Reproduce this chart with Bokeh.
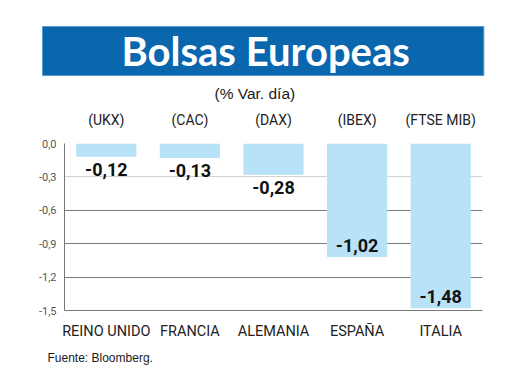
from bokeh.plotting import figure
from bokeh.models import (FactorRange, CategoricalAxis, FixedTicker, Grid, Title,
                          ColumnDataSource, CategoricalScale, LinearAxis)
from bokeh.embed import file_html
from bokeh.resources import INLINE
from bokeh.core.properties import value

countries = ["REINO UNIDO", "FRANCIA", "ALEMANIA", "ESPAÑA", "ITALIA"]
codes = ["(UKX)", "(CAC)", "(DAX)", "(IBEX)", "(FTSE MIB)"]
changes = [-0.12, -0.13, -0.28, -1.02, -1.48]
y_ticks = [0.0, -0.3, -0.6, -0.9, -1.2, -1.5]
y_tick_labels = ["0,0", "-0,3", "-0,6", "-0,9", "-1,2", "-1,5"]
title = "Bolsas Europeas"
subtitle = "(% Var. día)"
source_note = "Fuente: Bloomberg."

W, H = 520, 390
FL, FT, FR, FB = 64, 143, 482, 310  # frame edges on the page

p = figure(width=W, height=H, x_range=FactorRange(factors=countries),
           y_range=(-1.5, 0.0), output_backend="svg", toolbar_location=None,
           min_border_left=FL, min_border_right=W - FR, min_border_top=FT, min_border_bottom=H - FB,
           x_axis_location=None, y_axis_location=None)
p.outline_line_color = None
p.background_fill_color = "white"
p.border_fill_color = "white"
p.grid.visible = False

dark = Grid(dimension=1, ticker=FixedTicker(ticks=[y for y in y_ticks if y != -0.3]),
            grid_line_color="#7a7a7a", grid_line_width=1.2)
light = Grid(dimension=1, ticker=FixedTicker(ticks=[-0.3]),
             grid_line_color="#d2d2d2", grid_line_width=1)
p.add_layout(dark)
p.add_layout(light)

labels = [f"{v:.2f}".replace(".", ",") for v in changes]
src = ColumnDataSource(dict(x=countries, y=changes, lbl=labels))
p.vbar(x="x", top=0, bottom="y", width=0.72, source=src, fill_color="#b8e2f7", line_color=None)

outside = [i for i, v in enumerate(changes) if v > -0.5]
inside = [i for i, v in enumerate(changes) if v <= -0.5]
for idx, base, off in ((outside, "top", 6), (inside, "bottom", -5)):
    s = ColumnDataSource(dict(x=[countries[i] for i in idx], y=[changes[i] for i in idx],
                              lbl=[labels[i] for i in idx]))
    p.text(x="x", y="y", text="lbl", source=s, text_align="center", text_baseline=base,
           y_offset=off, text_font=value("Roboto"), text_font_style="bold",
           text_font_size="18px", text_color="#111111")

yax = LinearAxis(ticker=FixedTicker(ticks=y_ticks),
                 major_label_overrides={t: l for t, l in zip(y_ticks, y_tick_labels)})
yax.major_tick_line_color = None
yax.minor_tick_line_color = None
yax.axis_line_color = "#777777"
yax.major_label_standoff = 2
yax.major_label_text_baseline = "alphabetic"
yax.major_label_text_font = "Roboto"
yax.major_label_text_font_size = "11px"
yax.major_label_text_color = "#555555"
p.add_layout(yax, "left")

xax = CategoricalAxis()
xax.major_tick_line_color = None
xax.minor_tick_line_color = None
xax.axis_line_color = "#777777"
xax.axis_line_width = 1.2
xax.major_label_standoff = 6
xax.major_label_text_font = "Roboto"
xax.major_label_text_font_size = "14.5px"
xax.major_label_text_color = "#222222"
p.add_layout(xax, "below")

p.extra_x_ranges = {"codes": FactorRange(factors=codes)}
p.extra_x_scales = {"codes": CategoricalScale()}
tax = CategoricalAxis(x_range_name="codes")
tax.major_tick_line_color = None
tax.minor_tick_line_color = None
tax.axis_line_color = None
tax.major_label_standoff = 10
tax.major_label_text_font = "Roboto"
tax.major_label_text_font_size = "14px"
tax.major_label_text_color = "#222222"
p.add_layout(tax, "above")

p.add_layout(Title(text=subtitle, align="left", offset=256 - 42 - FL, standoff=13,
                   text_font="Liberation Sans", text_font_style="normal",
                   text_font_size="15.5px", text_color="#1a1a1a"), "above")
p.add_layout(Title(text=title, align="left", offset=42 - FL, standoff=2,
                   text_font="Lato", text_font_style="bold", text_font_size="40px",
                   text_color="white", background_fill_color="#0a67ad",
                   border_line_color="#5b9ad0", border_line_width=1,
                   padding=(79, 74, 0, 1)), "above")
p.add_layout(Title(text=source_note, align="left", offset=47 - FL, standoff=12,
                   text_font="Liberation Sans", text_font_style="normal",
                   text_font_size="12px", text_color="#1a1a1a"), "below")

open("out.html", "w").write(file_html(p, INLINE))
